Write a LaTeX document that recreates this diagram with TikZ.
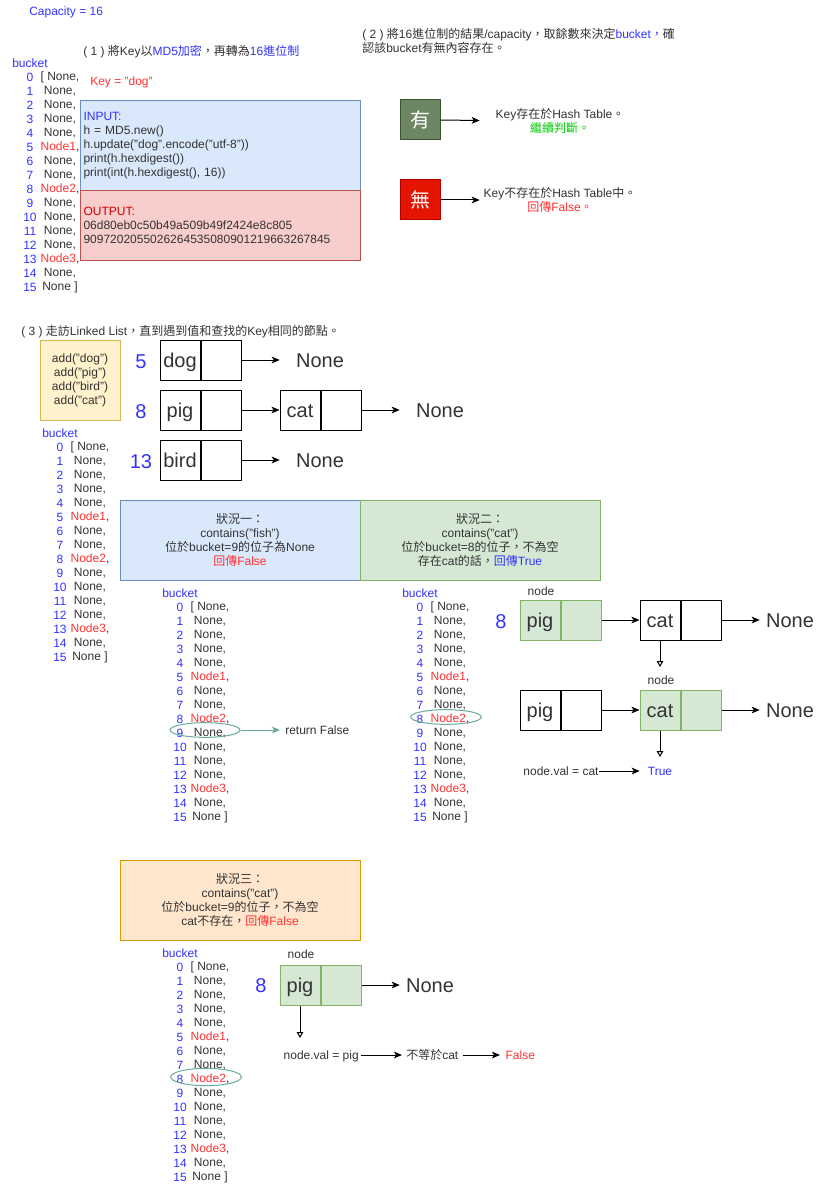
\documentclass[tikz,border=0pt]{standalone}
\usepackage{fontspec}
\setmainfont{Liberation Sans}
\newfontfamily\cjk{Noto Sans CJK TC}
\usetikzlibrary{arrows.meta,shapes.geometric}
\newcommand\zh[1]{{\cjk #1}}
\newcommand\fsN{\fontsize{9pt}{10.5pt}\selectfont}
\newcommand\fsB{\fontsize{15pt}{18pt}\selectfont}
\definecolor{blueT}{HTML}{3333FF}
\definecolor{redT}{HTML}{FF3333}
\definecolor{outRed}{HTML}{CC0000}
\definecolor{dark}{HTML}{333333}
\definecolor{greenT}{HTML}{00CC00}
\definecolor{inF}{HTML}{DAE8FC}
\definecolor{inD}{HTML}{6C8EBF}
\definecolor{outF}{HTML}{F8CECC}
\definecolor{outD}{HTML}{B85450}
\definecolor{yesF}{HTML}{6D8764}
\definecolor{yesD}{HTML}{3A5431}
\definecolor{noF}{HTML}{E51400}
\definecolor{noD}{HTML}{B20000}
\definecolor{addF}{HTML}{FFF2CC}
\definecolor{addD}{HTML}{D6B656}
\definecolor{gF}{HTML}{D5E8D4}
\definecolor{gD}{HTML}{82B366}
\definecolor{oF}{HTML}{FFE6CC}
\definecolor{oD}{HTML}{D79B00}
\definecolor{teal1}{HTML}{67AB9F}
\tikzset{
  txt/.style={inner sep=0pt, text height=6.5pt, text depth=0pt, font=\fsN, text=dark},
  mtxt/.style={inner sep=0pt, font=\fsN, text=dark, align=center},
  big/.style={inner sep=0pt, text height=10.8pt, text depth=0pt, font=\fsB, text=dark},
  bignum/.style={big, text=blueT},
  cell/.style={draw=black, line width=0.75pt, minimum width=30pt, minimum height=30pt, inner sep=0pt, text height=10.8pt, text depth=0pt, font=\fsB, text=dark},
  gcell/.style={cell, fill=gF, draw=gD},
  arr/.style={-{Stealth[length=6pt,width=5pt,inset=1.5pt]}, line width=0.75pt, draw=black},
  tarr/.style={-{Stealth[length=6pt,width=5pt,inset=1.5pt]}, line width=0.75pt, draw=teal1},
  oarr/.style={-{Triangle[open,length=4.5pt,width=5pt]}, line width=0.75pt, draw=black},
  casebox/.style={draw, line width=0.75pt, minimum width=180pt, minimum height=60pt, inner sep=0pt, font=\fsN, text=dark, align=center},
  ell/.style={ellipse, draw=teal1, line width=0.75pt, inner sep=0pt},
}
\newcommand\bucketlist[3]{%
\begin{scope}[shift={(#2,#3)}]
\node[txt,text=blueT,anchor=west] (#1-b) at (12,63) {bucket};
\foreach \i in {0,...,15}{\node[txt,text=blueT] (#1-n\i) at (30,77+14*\i) {\i};}
\node[txt] (#1-t0) at (60,76) {[ None,};
\foreach \i in {1,2,3,4,6,7,9,10,11,12,14}{\node[txt] (#1-t\i) at (60,76+14*\i) {None,};}
\foreach \i/\k in {5/1,8/2,13/3}{\node[txt] (#1-t\i) at (60,76+14*\i) {\textcolor{redT}{Node\k},};}
\node[txt] (#1-t15) at (60,286) {None ]};
\end{scope}}
\begin{document}
\begin{tikzpicture}[x=0.75pt,y=-0.75pt]
\fill[white] (0,0) rectangle (821,1191);
\useasboundingbox (0,0) rectangle (821,1191);

% ---------- section 1 ----------
\node[txt,text=blueT,anchor=west] (cap) at (29,11) {Capacity = 16};
\node[txt,anchor=west] (s1) at (83,51) {( 1 ) \zh{將}Key\zh{以}\textcolor{blueT}{MD5\zh{加密}}\zh{，再轉為}\textcolor{blueT}{16\zh{進位制}}};
\bucketlist{L1}{0}{0}
\node[txt,text=redT,anchor=west] (key) at (90,81) {Key = "dog"};
\node[draw=inD, fill=inF, line width=0.75pt, minimum width=210pt, minimum height=67.5pt,
      inner xsep=2.25pt, text width=205.5pt, align=left, font=\fsN, text=dark, anchor=north west]
      (inbox) at (80,100) {\textcolor{blueT}{INPUT:}\\h = MD5.new()\\h.update("dog".encode("utf-8"))\\print(h.hexdigest())\\print(int(h.hexdigest(), 16))};
\node[draw=outD, fill=outF, line width=0.75pt, minimum width=210pt, minimum height=52.5pt,
      inner xsep=2.25pt, text width=205.5pt, align=left, font=\fsN, text=dark, anchor=north west]
      (outbox) at (80,190) {\textcolor{outRed}{OUTPUT:}\\06d80eb0c50b49a509b49f2424e8c805\\9097202055026264535080901219663267845};

% ---------- section 2 ----------
\node[mtxt,align=left,anchor=west] (s2) at (362,40.5) {( 2 ) \zh{將}16\zh{進位制的結果}/capacity\zh{，取餘數來決定}\textcolor{blueT}{bucket\zh{，}}\zh{確}\\\zh{認該}bucket\zh{有無內容存在。}};
\node[draw=yesD, fill=yesF, line width=0.75pt, minimum size=30pt, inner sep=0pt, text=white, font=\fsB\cjk] (yes) at (420,120) {有};
\node[mtxt, minimum width=120pt] (yestxt) at (560,120.5) {Key\zh{存在於}Hash Table\zh{。}\\\textcolor{greenT}{\zh{繼續判斷。}}};
\draw[arr] (yes.east) -- (yestxt.west);
\node[draw=noD, fill=noF, line width=0.75pt, minimum size=30pt, inner sep=0pt, text=white, font=\fsB\cjk] (no) at (420,200) {無};
\node[mtxt, minimum width=120pt] (notxt) at (560,200) {Key\zh{不存在於}Hash Table\zh{中。}\\\textcolor{redT}{\zh{回傳}False\zh{。}}};
\draw[arr] (no.east) -- (notxt.west);

% ---------- section 3 ----------
\node[txt,anchor=west] (s3) at (21,331) {( 3 ) \zh{走訪}Linked List\zh{，直到遇到值和查找的}Key\zh{相同的節點。}};
\node[draw=addD, fill=addF, line width=0.75pt, minimum size=60pt, mtxt] (add) at (80,380) {add("dog")\\add("pig")\\add("bird")\\add("cat")};

\node[bignum] (k5) at (141,361) {5};
\node[cell] (dogL) at (180,360) {dog};
\node[cell,anchor=west] (dogR) at (dogL.east) {};
\node[big,minimum width=60pt] (n5) at (320,360) {None};
\draw[arr] (dogR.east) -- (n5.west);

\node[bignum] (k8) at (141,411) {8};
\node[cell] (pigL) at (180,410) {pig};
\node[cell,anchor=west] (pigR) at (pigL.east) {};
\node[cell] (catL) at (300,410) {cat};
\node[cell,anchor=west] (catR) at (catL.east) {};
\node[big,minimum width=60pt] (n8) at (440,410) {None};
\draw[arr] (pigR.east) -- (catL.west);
\draw[arr] (catR.east) -- (n8.west);

\node[bignum] (k13) at (141,461) {13};
\node[cell] (birdL) at (180,460) {bird};
\node[cell,anchor=west] (birdR) at (birdL.east) {};
\node[big,minimum width=60pt] (n13) at (320,460) {None};
\draw[arr] (birdR.east) -- (n13.west);

\bucketlist{L2}{30}{370}

% case 1 and case 2
\node[casebox, fill=inF, draw=inD] (case1) at (240,540) {\zh{狀況一：}\\contains("fish")\\\zh{位於}bucket=9\zh{的位子為}None\\\textcolor{redT}{\zh{回傳}False}};
\node[casebox, fill=gF, draw=gD] (case2) at (480,540) {\zh{狀況二：}\\contains("cat")\\\zh{位於}bucket=8\zh{的位子，不為空}\\\zh{存在}cat\zh{的話，}\textcolor{blueT}{\zh{回傳}True}};

\bucketlist{L3}{150}{530}
\node[ell, minimum width=52.5pt, minimum height=11pt] (e1) at (205,730) {};
\node[txt,anchor=west,inner xsep=3.75pt] (ret) at (280,730) {return False};
\draw[tarr] (e1.east) -- (ret.west);

\bucketlist{L4}{390}{530}
\node[ell, minimum width=53pt, minimum height=11pt] (e2) at (446,717) {};

\node[txt] (lbl1) at (541,591) {node};
\node[bignum] (k8b) at (501,621) {8};
\node[gcell] (p2L) at (540,620) {pig};
\node[gcell,anchor=west] (p2R) at (p2L.east) {};
\node[cell] (c2L) at (660,620) {cat};
\node[cell,anchor=west] (c2R) at (c2L.east) {};
\node[big,minimum width=45pt] (n2a) at (790,620) {None};
\draw[arr] (p2R.east) -- (c2L.west);
\draw[arr] (c2R.east) -- (n2a.west);
\coordinate (tip1) at (660,667);
\draw[oarr] (c2L.south) -- (tip1);
\node[txt] (lbl2) at (661,680) {node};

\node[cell] (p3L) at (540,710) {pig};
\node[cell,anchor=west] (p3R) at (p3L.east) {};
\node[gcell] (c3L) at (660,710) {cat};
\node[gcell,anchor=west] (c3R) at (c3L.east) {};
\node[big,minimum width=45pt] (n2b) at (790,710) {None};
\draw[arr] (p3R.east) -- (c3L.west);
\draw[arr] (c3R.east) -- (n2b.west);
\coordinate (tip2) at (660,757);
\draw[oarr] (c3L.south) -- (tip2);
\node[txt,text=blueT,minimum width=30pt] (true) at (660,771) {True};
\node[txt] (nvc) at (561,771) {node.val = cat};
\draw[arr] (nvc.east) -- (true.west);

% case 3
\node[casebox, fill=oF, draw=oD] (case3) at (240,900) {\zh{狀況三：}\\contains("cat")\\\zh{位於}bucket=9\zh{的位子，不為空}\\cat\zh{不存在，}\textcolor{redT}{\zh{回傳}False}};
\bucketlist{L5}{150}{890}
\node[ell, minimum width=53pt, minimum height=13pt] (e3) at (206,1077) {};

\node[txt] (lbl3) at (301,954) {node};
\node[bignum] (k8c) at (261,985) {8};
\node[gcell] (p4L) at (300,985) {pig};
\node[gcell,anchor=west] (p4R) at (p4L.east) {};
\node[big,minimum width=45pt] (n4) at (430,985) {None};
\draw[arr] (p4R.east) -- (n4.west);
\coordinate (tip3) at (300,1038);
\draw[oarr] (p4L.south) -- (tip3);
\node[txt,anchor=east,inner xsep=1.5pt] (nvp) at (361,1055) {node.val = pig};
\node[txt,anchor=west,inner xsep=3pt] (neq) at (402,1055) {\zh{不等於}cat};
\node[txt,anchor=west,inner xsep=4pt,text=redT] (f3) at (500,1055) {False};
\draw[arr] (nvp.east) -- (neq.west);
\draw[arr] (neq.east) -- (f3.west);
\end{tikzpicture}
\end{document}
